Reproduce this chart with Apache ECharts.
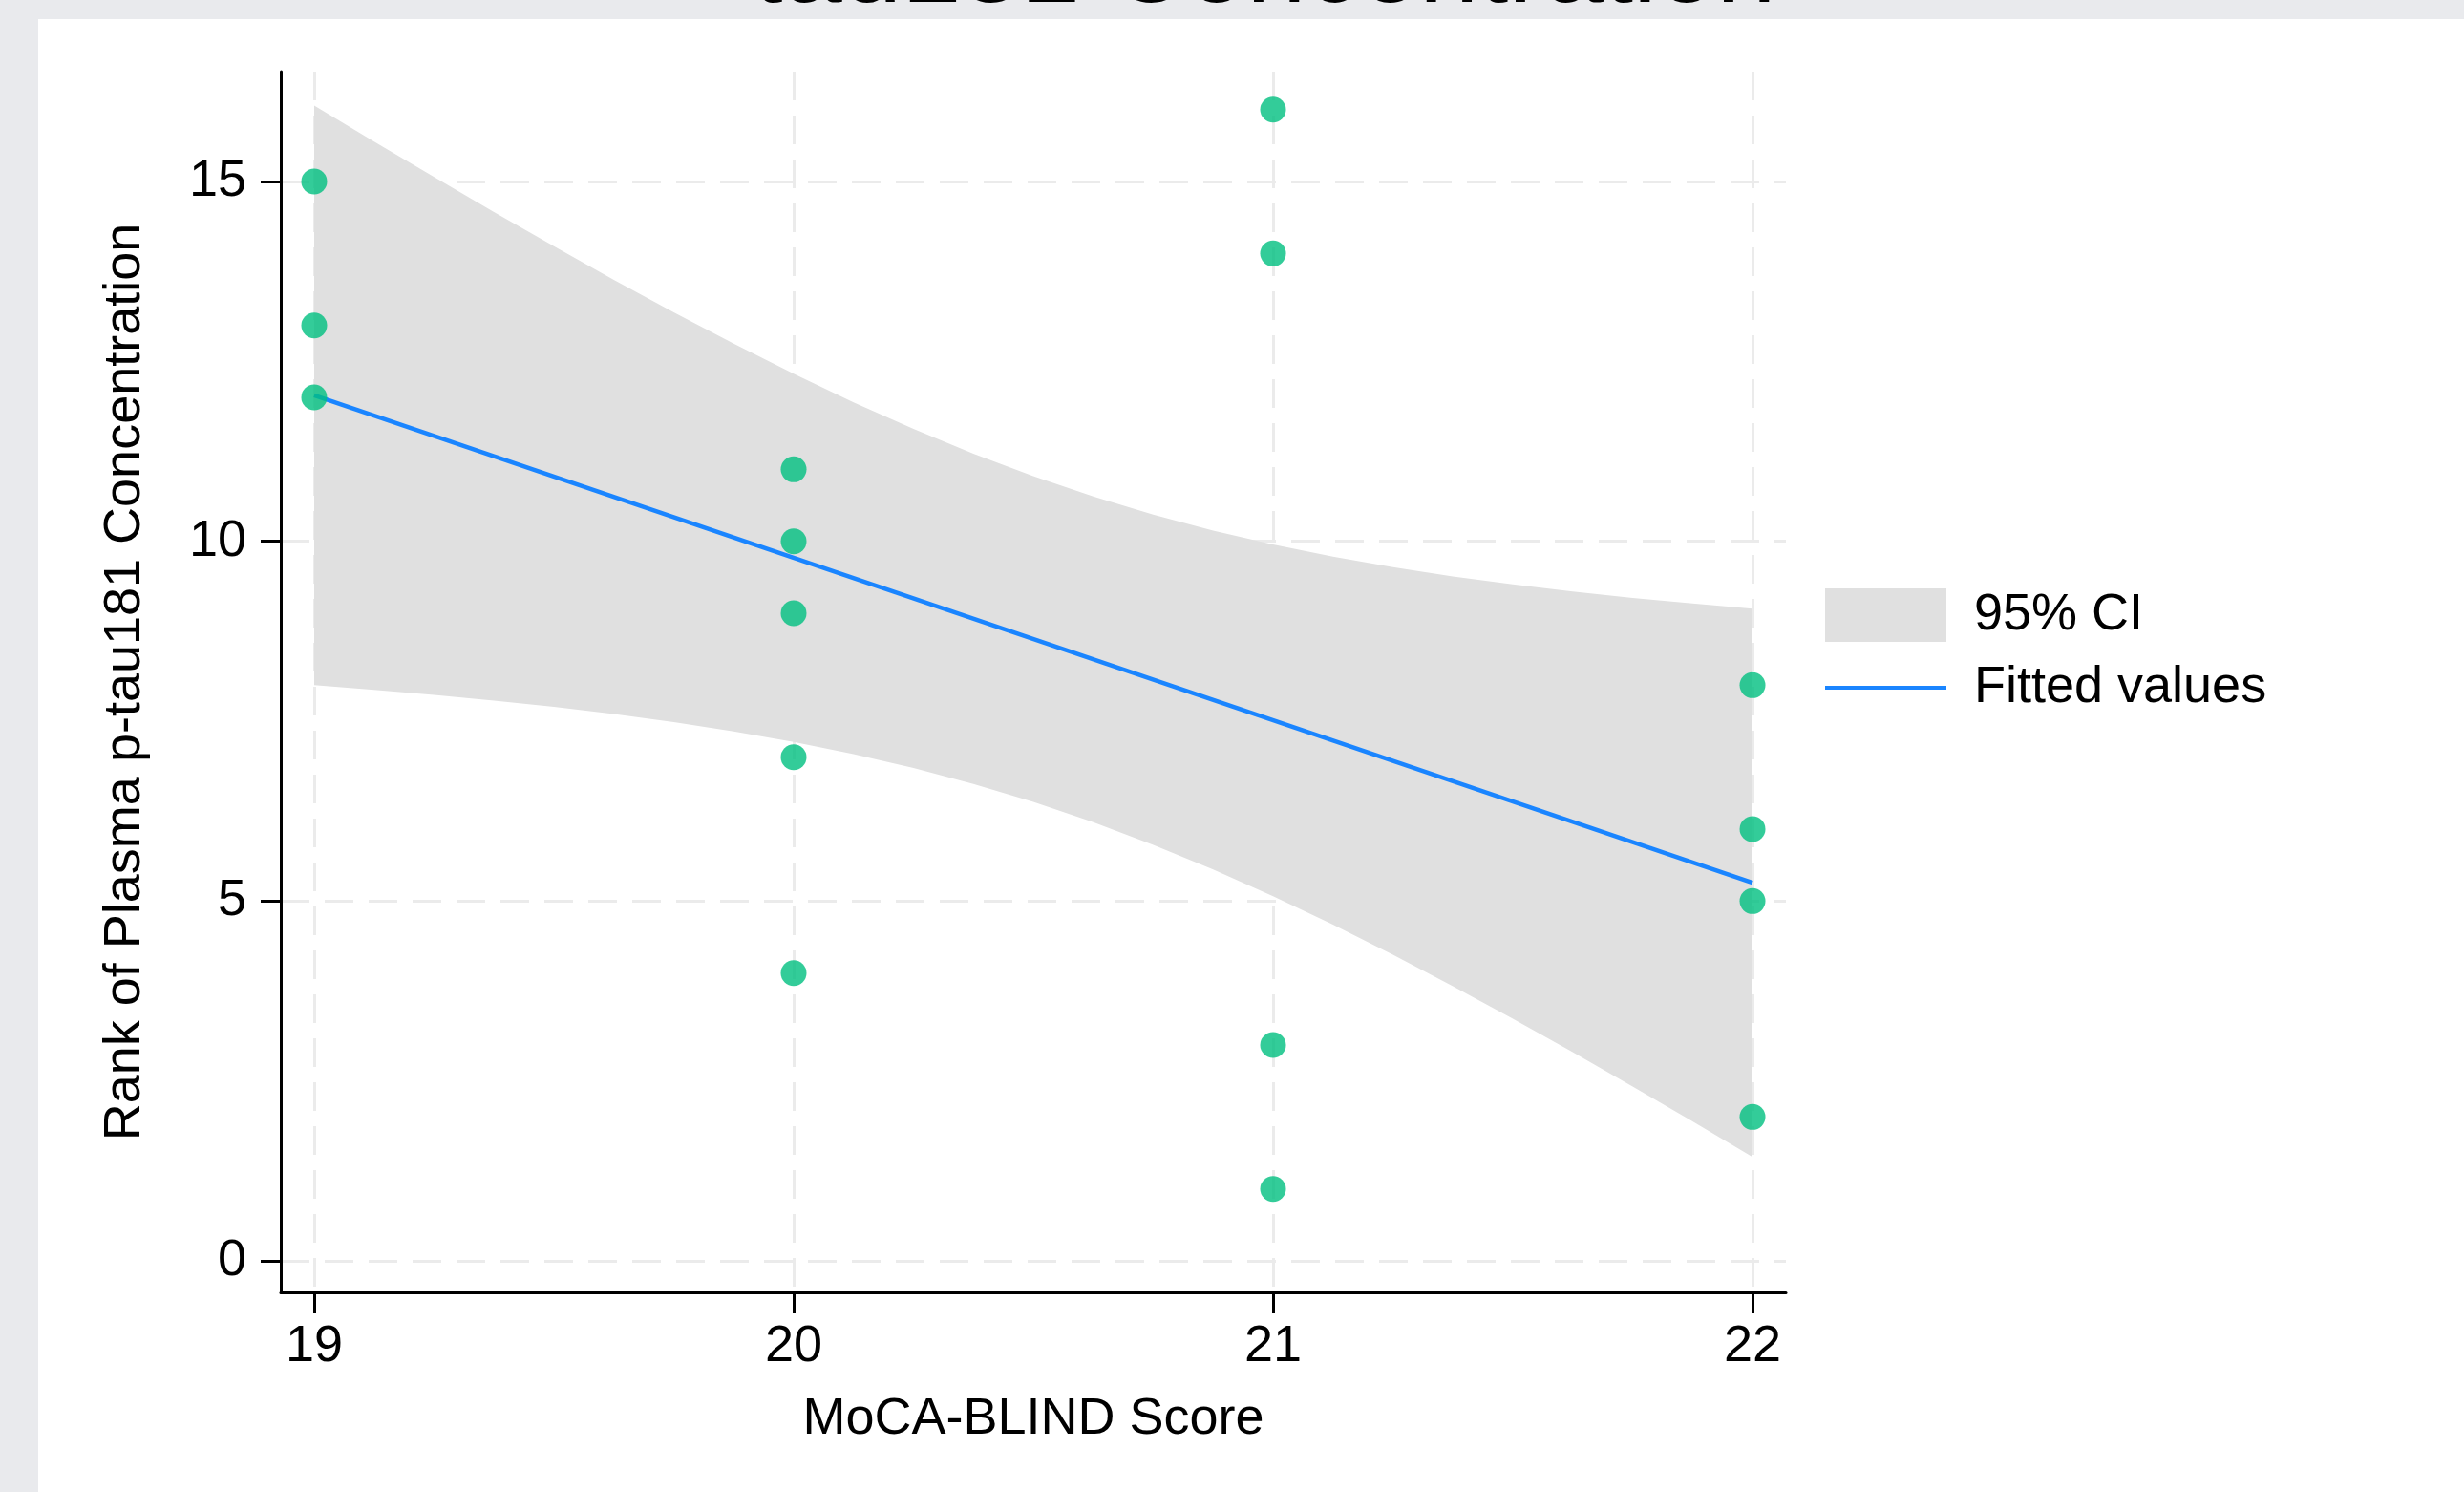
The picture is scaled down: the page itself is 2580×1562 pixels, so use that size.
<!DOCTYPE html>
<html>
<head>
<meta charset="utf-8">
<script src="https://cdn.jsdelivr.net/npm/echarts@6/dist/echarts.min.js"></script>
<style>
  html, body { margin: 0; padding: 0; background: #e9eaed; }
  #chart { width: 2580px; height: 1562px; }
</style>
</head>
<body>
<div id="chart"></div>
<script>
// Observations: MoCA-BLIND score vs. rank of plasma p-tau181 concentration
const mocaScore = [19, 19, 19, 20, 20, 20, 20, 20, 21, 21, 21, 21, 22, 22, 22, 22];
const ptauRank  = [15, 13, 12, 11, 10, 9, 7, 4, 16, 14, 3, 1, 8, 6, 5, 2];

// Linear fit endpoints
const fitX = [19, 22];
const fitY = [12.028, 5.254];

// 95% confidence band of the fit
const ciX = [19, 19.125, 19.25, 19.375, 19.5, 19.625, 19.75, 19.875, 20, 20.125, 20.25, 20.375, 20.5,
             20.625, 20.75, 20.875, 21, 21.125, 21.25, 21.375, 21.5, 21.625, 21.75, 21.875, 22];
const ciLower = [8.000, 7.936, 7.865, 7.786, 7.698, 7.599, 7.487, 7.358, 7.212, 7.043, 6.850, 6.629, 6.378,
                 6.096, 5.782, 5.439, 5.068, 4.672, 4.254, 3.818, 3.366, 2.900, 2.424, 1.938, 1.445];
const ciUpper = [16.055, 15.555, 15.062, 14.576, 14.100, 13.634, 13.182, 12.746, 12.328, 11.932, 11.561, 11.218, 10.904,
                 10.622, 10.371, 10.150, 9.957, 9.788, 9.642, 9.513, 9.401, 9.302, 9.214, 9.135, 9.064];

// Tick labels
const xTicks = [19, 20, 21, 22];
const yTicks = [0, 5, 10, 15];

const FONT = '"Liberation Sans", Arial, Helvetica, sans-serif';

const chart = echarts.init(document.getElementById('chart'), null, { renderer: 'canvas' });

const scatterData = mocaScore.map((x, i) => [x, ptauRank[i]]);
const fitData = fitX.map((x, i) => [x, fitY[i]]);

const gridLine = { show: true, lineStyle: { color: '#ebebeb', width: 3, type: [30, 16] } };

chart.setOption({
  backgroundColor: '#e9eaed',
  animation: false,
  graphic: [
    { type: 'rect', z: -100, silent: true,
      shape: { x: 40, y: 20, width: 2540, height: 1542 }, style: { fill: '#ffffff' } },
    // heading sits above the panel; only its baseline edge falls inside the page
    { type: 'text', z: -50, silent: true, x: 1324, y: -85,
      style: { text: 'tau181 Concentration', fill: '#000', font: '112px ' + FONT,
               align: 'center', verticalAlign: 'top' } }
  ],
  grid: { left: 294, right: 710, top: 75, bottom: 209, containLabel: false },
  legend: {
    orient: 'vertical', left: 1906, top: 611,
    itemWidth: 127, itemHeight: 56, itemGap: 21,
    data: [
      { name: '95% CI', icon: 'rect' },
      { name: 'Fitted values', icon: 'path://M0,0H127V4H0Z' }
    ],
    textStyle: { fontFamily: FONT, fontSize: 54, color: '#000', padding: [0, 0, 0, 24] }
  },
  xAxis: {
    type: 'value', min: 18.9303, max: 22.0697,
    name: 'MoCA-BLIND Score', nameLocation: 'middle', nameGap: 106,
    nameTextStyle: { fontFamily: FONT, fontSize: 54, color: '#000' },
    axisLine: { show: true, onZero: false, lineStyle: { color: '#000', width: 3 } },
    axisTick: { show: true, length: 22, customValues: xTicks, lineStyle: { color: '#000', width: 3 } },
    axisLabel: { customValues: xTicks, margin: 30, fontFamily: FONT, fontSize: 54, color: '#000' },
    splitLine: gridLine
  },
  yAxis: {
    type: 'value', min: -0.438, max: 16.527,
    name: 'Rank of Plasma p-tau181 Concentration', nameLocation: 'middle', nameGap: 136,
    nameTextStyle: { fontFamily: FONT, fontSize: 54, color: '#000' },
    axisLine: { show: true, onZero: false, lineStyle: { color: '#000', width: 3 } },
    axisTick: { show: true, length: 21, customValues: yTicks, lineStyle: { color: '#000', width: 3 } },
    axisLabel: { customValues: yTicks, margin: 36, fontFamily: FONT, fontSize: 54, color: '#000' },
    splitLine: gridLine
  },
  series: [
    {
      name: '95% CI', type: 'custom', z: 2,
      itemStyle: { color: '#e0e0e0' },
      data: [[ciX[0], ciUpper[0]]],
      encode: { x: 0, y: 1 },
      renderItem: function (params, api) {
        const pts = [];
        for (let i = 0; i < ciX.length; i++) pts.push(api.coord([ciX[i], ciUpper[i]]));
        for (let i = ciX.length - 1; i >= 0; i--) pts.push(api.coord([ciX[i], ciLower[i]]));
        return { type: 'polygon', shape: { points: pts }, style: { fill: '#e0e0e0' } };
      }
    },
    {
      name: 'Fitted values', type: 'line', z: 3,
      data: fitData, symbol: 'none',
      lineStyle: { color: '#1a85ff', width: 4.5 },
      itemStyle: { color: '#1a85ff' }
    },
    {
      name: 'Observed', type: 'scatter', z: 4,
      data: scatterData, symbolSize: 27,
      itemStyle: { color: '#00bf7f' }
    }
  ]
});
</script>
</body>
</html>
